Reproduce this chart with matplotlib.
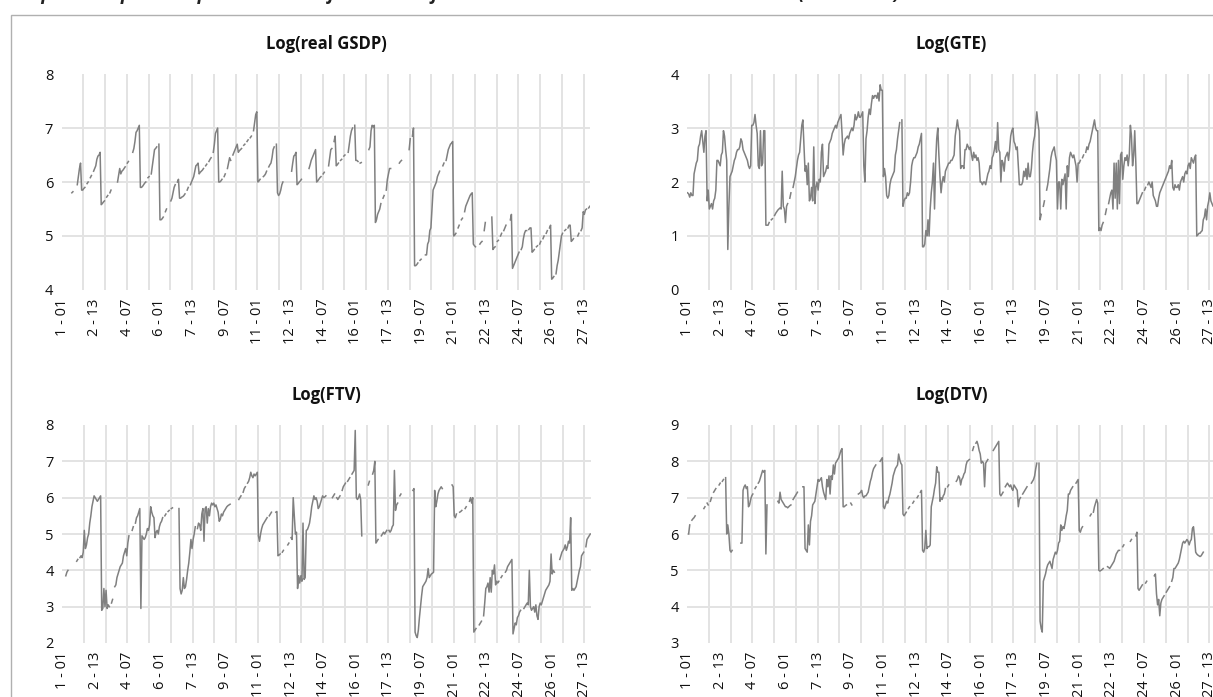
import numpy as np
import matplotlib
matplotlib.use("Agg")
import matplotlib.pyplot as plt
from matplotlib.patches import Rectangle

plt.rcParams["font.family"] = ["Open Sans", "DejaVu Sans"]

nan = np.nan
n_states = 27
n_periods = 18

# one list of 18 periods per state, nan = missing value (gap in the line)
gsdp = [
    [nan, nan, nan, nan, nan, nan, nan, nan, nan, 5.8, 5.82, nan, nan, nan, 5.95, 6.1, 6.25, 6.35],
    [5.85, 5.85, 5.88, 5.9, nan, 5.97, 6.0, nan, 6.08, 6.12, nan, 6.2, 6.25, 6.3, 6.42, 6.48, 6.5, 6.55],
    [5.58, 5.6, 5.63, 5.65, nan, 5.72, 5.75, nan, 5.8, 5.85, nan, nan, nan, nan, nan, 6.0, 6.12, 6.25],
    [6.15, 6.2, 6.22, 6.25, 6.28, nan, 6.35, 6.38, nan, 6.45, nan, 6.55, 6.62, 6.75, 6.92, 6.95, 7.0, 7.05],
    [5.9, 5.9, 5.92, 5.95, 5.98, 6.0, nan, 6.08, 6.1, nan, 6.15, 6.3, 6.45, 6.6, 6.62, 6.65, nan, 6.7],
    [5.3, 5.3, 5.32, 5.35, nan, 5.45, 5.5, nan, 5.55, nan, 5.65, 5.7, 5.8, 5.9, 5.95, nan, 6.0, 6.05],
    [5.7, 5.7, 5.72, 5.73, 5.75, 5.78, nan, 5.85, 5.9, nan, 5.95, 6.0, 6.05, 6.1, 6.2, 6.3, 6.32, 6.35],
    [6.15, 6.18, 6.2, 6.22, 6.25, nan, 6.3, 6.33, nan, 6.38, 6.42, 6.45, nan, 6.55, 6.7, 6.9, 6.95, 7.0],
    [6.0, 6.0, 6.02, 6.05, nan, 6.1, 6.15, nan, 6.25, 6.35, 6.45, 6.4, nan, 6.5, 6.55, 6.6, 6.65, 6.7],
    [6.55, 6.58, 6.6, 6.62, nan, 6.68, 6.7, nan, 6.75, 6.78, nan, 6.82, 6.85, nan, 6.95, 7.1, 7.25, 7.3],
    [6.0, 6.02, 6.05, nan, nan, 6.1, 6.12, 6.15, 6.2, nan, 6.28, 6.32, 6.35, 6.45, 6.6, 6.65, nan, 6.7],
    [5.8, 5.75, 5.78, 5.85, 5.95, 6.0, nan, nan, nan, nan, nan, nan, nan, 6.2, 6.35, 6.48, 6.5, 6.55],
    [5.95, 5.97, 6.0, 6.02, 6.05, nan, nan, nan, nan, nan, nan, 6.25, 6.32, 6.4, 6.45, 6.5, 6.55, 6.6],
    [6.0, 6.02, 6.05, 6.08, 6.1, nan, 6.15, 6.18, nan, 6.22, nan, 6.3, 6.45, 6.6, 6.62, nan, 6.75, 6.85],
    [6.3, 6.32, 6.35, nan, 6.4, 6.42, nan, 6.48, 6.5, nan, nan, 6.55, 6.7, 6.85, 6.95, 7.0, nan, 7.05],
    [6.4, 6.4, 6.38, nan, 6.35, 6.36, nan, nan, nan, nan, nan, nan, 6.6, 6.65, 6.95, 7.05, 7.02, 7.05],
    [5.25, 5.3, 5.4, 5.45, 5.5, 5.6, nan, 5.7, 5.75, nan, 5.85, 6.05, 6.15, 6.25, 6.25, nan, nan, nan],
    [nan, nan, nan, nan, 6.35, 6.38, 6.4, nan, nan, nan, nan, nan, nan, 6.6, 6.8, nan, 6.85, 7.0],
    [4.45, 4.45, 4.47, 4.5, nan, 4.55, 4.57, nan, 4.6, nan, 4.65, 4.65, 4.85, 4.9, 5.1, 5.15, 5.5, 5.85],
    [5.9, 5.95, 6.0, 6.1, 6.15, 6.2, nan, nan, 6.3, 6.35, nan, 6.4, 6.5, 6.6, 6.65, 6.7, 6.72, 6.75],
    [5.0, 5.02, 5.05, nan, 5.15, 5.2, nan, 5.3, 5.33, nan, 5.45, 5.55, 5.6, 5.65, 5.7, 5.75, 5.78, 5.8],
    [4.85, 4.82, 4.8, nan, nan, nan, 4.85, 4.88, 4.9, nan, 5.1, 5.25, nan, nan, nan, nan, nan, 5.35],
    [4.75, 4.78, 4.8, nan, 4.9, 4.92, nan, 5.0, 5.05, nan, 5.1, 5.15, 5.2, nan, nan, nan, 5.3, 5.4],
    [4.4, 4.45, 4.5, 4.55, 4.6, 4.65, 4.7, nan, 4.75, 4.8, 4.95, 5.05, 5.1, 5.1, nan, 5.12, 5.15, 5.15],
    [4.7, 4.72, 4.75, nan, 4.8, 4.82, nan, 4.85, 4.9, nan, 4.95, 5.0, nan, 5.05, 5.1, nan, 5.15, 5.2],
    [4.2, 4.22, 4.25, nan, 4.3, 4.45, 4.55, 4.7, 4.85, 5.0, 5.05, nan, 5.1, 5.12, nan, 5.15, 5.2, 5.2],
    [4.9, 4.92, 4.95, nan, nan, nan, 5.0, 5.05, nan, 5.1, 5.15, 5.45, 5.4, 5.48, 5.5, nan, 5.52, 5.55],
]

gte = [
    [1.8, 1.78, 1.72, 1.8, 1.75, 1.75, 2.15, 2.25, 2.35, 2.4, 2.65, 2.7, 2.85, 2.95, 2.75, 2.55, 2.85, 2.95],
    [1.65, 1.85, 1.5, 1.55, 1.6, 1.5, 1.65, 1.7, 1.85, 2.4, 2.4, 2.35, 2.3, 2.5, 2.55, 2.95, 2.85, 2.6],
    [2.4, 0.75, 1.55, 2.1, 2.15, 2.2, 2.3, 2.4, 2.45, 2.55, 2.6, 2.6, 2.65, 2.8, 2.75, 2.6, 2.55, 2.5],
    [2.45, 2.4, 2.3, 2.25, 2.3, 3.05, 3.05, 3.1, 3.25, 3.05, 2.9, 2.3, 2.25, 2.95, 2.3, 2.35, 2.95, 2.95],
    [1.2, 1.2, 1.2, 1.25, nan, 1.3, 1.32, nan, 1.38, 1.42, 1.45, 1.48, 1.5, 1.52, 1.5, 2.2, 1.55, 1.5],
    [1.25, 1.55, 1.6, nan, 1.7, 1.8, nan, 1.9, 2.0, 2.1, 2.25, 2.4, 2.5, 2.55, 2.8, 3.05, 3.15, 2.65],
    [2.2, 2.3, 1.95, 2.35, 1.65, 1.7, 1.9, 1.65, 2.65, 1.6, 1.9, 2.0, 1.85, 2.05, 2.0, 2.55, 2.7, 2.1],
    [2.15, 2.2, 2.3, 2.25, 2.7, 2.75, 2.8, 2.9, 2.95, 3.0, 3.05, 3.0, 3.1, 3.15, 3.2, 3.25, 2.9, 2.5],
    [2.7, 2.8, 2.82, 2.85, 2.8, 2.9, 2.95, 3.0, 2.95, 3.05, 3.25, 3.15, 3.2, 3.3, 3.2, 3.2, 3.25, 3.3],
    [2.3, 2.0, 2.8, 2.95, 3.2, 3.35, 3.25, 3.45, 3.6, 3.55, 3.6, 3.6, 3.55, 3.65, 3.5, 3.8, 3.7, 3.7],
    [2.1, 2.25, 2.1, 1.75, 1.7, 1.75, 1.95, 2.05, 2.1, 2.15, 2.2, 2.5, 2.6, 2.8, 2.95, 3.1, nan, 3.15],
    [1.55, 1.65, 1.7, 1.7, 1.8, 1.75, 1.8, 2.0, 2.3, 2.4, 2.45, 2.45, 2.5, 2.55, 2.65, 2.7, 2.8, 2.9],
    [0.8, 0.8, 0.85, 1.1, 1.0, 1.3, 1.0, 1.5, 1.8, 2.0, 2.35, 1.5, 2.35, 2.8, 3.0, 2.5, 2.1, 1.8],
    [2.0, 2.1, 2.0, 2.2, 2.25, 2.3, 2.35, 2.35, 2.4, 2.4, 2.45, 2.5, 2.85, 3.0, 3.15, 3.0, 2.95, 2.25],
    [2.3, 2.3, 2.25, 2.6, 2.6, 2.7, 2.65, 2.6, 2.65, 2.5, 2.4, 2.55, 2.45, 2.5, 2.4, 2.45, 2.35, 2.0],
    [2.0, 1.95, 2.0, 2.0, 1.95, 2.05, 2.15, 2.2, 2.3, 2.25, 2.45, 2.5, 2.6, 2.75, 2.55, 3.1, 2.6, 2.55],
    [2.0, 2.4, 2.35, 2.2, 2.45, 2.5, 2.55, 2.4, 2.6, 2.85, 2.95, 3.0, 2.75, 2.7, 2.6, 2.65, 2.3, 1.95],
    [1.95, 1.95, 2.0, 2.2, 2.1, 2.25, 2.05, 2.35, 2.1, 2.1, 2.25, 2.55, 2.75, 2.85, 3.1, 3.3, 3.1, 2.95],
    [1.3, 1.4, nan, 1.55, 1.65, nan, 1.85, 1.95, 2.1, 2.25, 2.45, 2.55, 2.6, 2.65, 2.5, 2.4, 1.5, 2.0],
    [2.0, 1.5, 2.05, 1.95, 2.05, 2.15, 1.5, 2.3, 2.1, 2.45, 2.55, 2.5, 2.45, 2.5, 2.4, 2.3, 2.0, 2.35],
    [2.35, 2.4, nan, 2.45, 2.5, nan, 2.55, 2.65, 2.6, 2.7, 2.75, 2.85, 2.95, 3.05, 3.15, 3.0, 2.95, 2.95],
    [1.1, 1.15, 1.1, 1.2, 1.25, nan, 1.4, 1.5, nan, 1.6, 1.7, 1.8, 1.85, 1.5, 2.35, 1.7, 2.35, 1.5],
    [2.4, 1.6, 2.5, 2.55, 2.05, 2.3, 2.45, 2.4, 2.5, 2.3, 2.5, 3.05, 2.85, 2.3, 2.5, 2.95, 2.35, 1.6],
    [1.6, 1.65, 1.7, 1.75, 1.8, nan, 1.85, 1.9, nan, 1.95, 2.0, 1.95, 1.9, 2.0, 1.75, 1.7, 1.65, 1.55],
    [1.55, 1.7, 1.8, 1.85, 1.9, 1.95, 2.0, 2.05, 2.1, 2.15, 2.2, 2.3, 2.25, 2.4, 1.9, 1.85, 1.95, 1.9],
    [1.9, 1.95, 1.85, 2.0, 2.05, 2.1, 2.0, 2.15, 2.2, 2.15, 2.3, 2.35, 2.25, 2.45, 2.4, 2.35, 2.45, 2.5],
    [1.0, 1.02, 1.05, 1.05, 1.08, 1.1, 1.3, 1.35, 1.5, 1.3, 1.55, 1.65, 1.8, 1.65, 1.6, 1.55, 1.55, 1.5],
]

ftv = [
    [nan, nan, nan, 3.85, 3.95, 4.0, nan, nan, nan, nan, nan, nan, nan, 4.25, 4.3, nan, 4.35, 4.4],
    [4.35, 4.5, 5.1, 4.6, 4.7, 4.9, 5.0, 5.3, 5.5, 5.75, 5.9, 6.05, 6.0, 5.95, 5.9, 5.95, 6.0, 6.05],
    [2.9, 2.95, 3.5, 3.0, 3.45, 2.95, 3.05, 3.0, nan, 3.1, 3.2, nan, 3.55, 3.6, 3.8, 3.9, 4.0, 4.1],
    [4.15, 4.2, 4.4, 4.5, 4.6, 4.4, 4.75, 4.95, nan, nan, 5.1, 5.2, nan, 5.3, 5.45, 5.5, 5.6, 5.7],
    [2.95, 4.95, 4.9, 4.85, 4.9, 5.0, 5.15, 5.1, 5.25, 5.75, 5.6, 5.5, 5.45, 4.9, 5.05, 5.1, 5.0, 5.2],
    [5.3, 5.35, 5.45, nan, 5.5, 5.55, nan, 5.62, 5.65, nan, 5.7, 5.72, nan, nan, nan, nan, nan, 5.7],
    [3.5, 3.35, 3.45, 3.8, 3.5, 3.55, 3.75, 4.0, 4.2, 4.5, 4.85, 4.6, 4.85, 5.0, 5.2, nan, 5.15, 5.3],
    [5.25, 5.1, 5.55, 5.7, 4.8, 5.7, 5.75, 5.3, 5.7, 5.5, 5.75, 5.85, 5.8, 5.85, 5.75, 5.8, 5.7, 5.6],
    [5.35, 5.4, 5.55, 5.5, 5.6, 5.65, 5.7, 5.75, 5.78, 5.8, 5.82, nan, nan, nan, nan, nan, nan, nan],
    [5.95, 6.0, 6.05, nan, 6.15, 6.25, 6.3, nan, 6.4, 6.45, 6.55, 6.7, 6.6, 6.55, 6.65, 6.6, 6.65, 6.7],
    [4.95, 4.8, 5.0, 5.15, 5.25, 5.3, 5.35, 5.4, 5.45, nan, 5.5, 5.55, 5.6, nan, nan, nan, 5.6, 5.62],
    [4.4, 4.42, 4.45, nan, 4.5, 4.55, nan, nan, nan, 4.7, 4.75, nan, 4.9, 4.85, 6.0, 5.5, 5.0, 5.05],
    [3.5, 3.85, 3.65, 3.85, 3.7, 5.3, 3.75, 3.8, 5.1, 5.12, 5.2, 5.3, 5.5, 5.75, 5.9, 6.05, 5.95, 6.0],
    [5.9, 5.7, 5.75, 5.85, 5.95, 6.05, 6.0, 6.02, 6.05, nan, nan, nan, nan, nan, 6.0, 6.05, 6.1, nan],
    [6.0, 5.95, 6.0, 6.05, nan, 6.2, 6.3, 6.35, 6.4, nan, 6.45, 6.5, 6.55, nan, 6.65, 6.7, 6.75, 7.85],
    [6.0, 5.95, 6.0, 6.1, 5.95, 4.95, nan, nan, nan, nan, nan, 6.35, 6.45, nan, nan, 6.65, 6.75, 7.0],
    [4.75, 4.8, 4.85, nan, nan, 4.95, 5.0, 5.05, 5.0, 5.05, 5.1, nan, 5.1, 5.05, 5.1, 5.2, 5.25, 6.75],
    [5.65, 5.8, 5.85, nan, 6.05, 6.1, nan, nan, nan, nan, nan, nan, nan, nan, nan, nan, 6.2, 6.25],
    [2.3, 2.2, 2.15, 2.35, 2.7, 3.0, 3.3, 3.55, 3.6, 3.65, 3.7, 3.8, 4.05, 3.8, 3.85, 3.9, 3.92, 3.95],
    [6.2, 5.75, 5.9, 6.1, 6.2, 6.25, 6.3, 6.25, nan, nan, nan, nan, nan, nan, nan, nan, 6.35, 6.3],
    [5.5, 5.45, 5.55, nan, nan, 5.6, 5.62, 5.65, nan, nan, 5.7, 5.75, nan, nan, 5.9, 6.0, 5.85, 6.0],
    [2.3, 2.35, 2.4, nan, nan, 2.5, 2.55, 2.6, nan, 2.75, 3.1, 3.5, 3.55, 3.65, 3.4, 3.8, 3.4, 4.0],
    [3.9, 4.15, 3.6, 3.7, 3.65, 3.7, nan, 3.8, 3.85, nan, nan, 3.95, 4.0, 4.1, 4.15, 4.2, 4.25, 4.3],
    [2.25, 2.4, 2.55, 2.5, 2.7, 2.75, 2.85, 2.9, nan, nan, 2.95, 3.0, 3.05, 3.1, 3.05, 4.0, 3.0, 2.9],
    [2.95, 3.0, 2.85, 3.05, 2.75, 2.65, 3.0, 3.1, 3.05, 3.15, 3.25, 3.35, 3.45, 3.5, 3.55, 3.6, 3.7, 4.45],
    [3.9, 4.0, 3.95, nan, nan, nan, nan, 4.3, 4.4, 4.5, 4.55, 4.6, 4.7, 4.55, 4.65, 4.8, 4.75, 5.45],
    [3.45, 3.5, 3.45, 3.5, 3.55, 3.7, 3.85, 4.0, 4.1, 4.4, 4.45, 4.5, nan, 4.65, 4.85, 4.9, 4.95, 5.0],
]

dtv = [
    [nan, 6.0, 6.25, nan, 6.38, 6.42, 6.45, 6.5, nan, nan, nan, nan, nan, nan, nan, 6.7, 6.75, nan],
    [6.85, 6.8, nan, 6.9, 7.0, nan, 7.15, 7.2, 7.25, nan, nan, 7.35, 7.4, nan, 7.45, 7.5, nan, 7.55],
    [6.0, 6.25, 6.0, 5.55, 5.5, 5.55, nan, nan, nan, nan, nan, nan, nan, 5.75, 5.75, 7.2, 7.3, 7.35],
    [7.25, 7.3, 6.75, 6.8, 6.95, 7.05, 7.1, nan, 7.25, 7.3, nan, 7.4, 7.45, 7.55, 7.65, 7.75, 7.7, 7.75],
    [5.45, 6.8, nan, nan, nan, nan, nan, nan, nan, nan, nan, 6.9, 6.85, 7.15, 6.95, 6.9, 6.85, 6.8],
    [6.75, 6.75, 6.72, 6.75, 6.78, 6.8, nan, 6.95, 7.0, 7.05, 7.1, 7.15, nan, nan, nan, nan, 7.3, 7.3],
    [5.6, 5.55, 5.5, 6.25, 5.7, 6.35, 6.5, 6.8, 6.85, 6.9, 7.1, 7.3, 7.5, 7.45, 7.5, 7.55, 7.3, 7.15],
    [7.05, 6.95, 7.5, 7.3, 7.6, 7.1, 7.6, 7.5, 7.9, 7.65, 7.95, 8.0, 8.05, 8.1, 8.2, 8.3, 8.35, 6.75],
    [6.75, 6.78, 6.8, nan, nan, nan, 6.85, 6.8, nan, nan, nan, nan, nan, 7.1, 7.12, 7.15, 7.2, 7.05],
    [7.0, 7.05, 7.05, 7.1, 7.15, 7.3, 7.45, 7.55, 7.7, 7.8, 7.85, 7.9, nan, nan, nan, 8.0, 8.05, 8.1],
    [6.75, 6.7, 6.8, 6.9, 6.85, 7.0, 7.1, 7.25, 7.4, 7.6, 7.7, 7.8, 7.85, 7.9, 8.2, 8.05, 7.95, 7.9],
    [6.55, 6.5, 6.55, 6.6, nan, 6.7, 6.75, nan, nan, 6.85, 6.9, nan, nan, 7.0, 7.05, nan, 7.15, 7.2],
    [5.55, 5.5, 5.6, 6.1, 5.6, 5.65, 5.65, 5.7, 6.75, 6.9, 7.05, 7.25, 7.4, 7.85, 7.7, 7.7, 6.9, 7.0],
    [6.95, 7.05, 7.1, 7.25, nan, 7.3, 7.35, nan, nan, nan, nan, nan, nan, 7.45, 7.5, 7.6, 7.55, 7.35],
    [7.5, 7.55, 7.65, 7.7, 7.9, 8.0, 8.02, 8.05, nan, nan, 8.3, 8.4, nan, 8.5, 8.55, 8.45, 8.3, 8.2],
    [7.95, 8.0, 7.95, 7.3, 7.95, 8.0, 8.05, nan, nan, nan, nan, 8.3, 8.35, 8.4, 8.45, 8.5, 8.55, 7.1],
    [7.05, 7.1, 7.15, nan, 7.3, 7.35, 7.4, 7.35, 7.3, 7.35, 7.25, 7.2, 7.35, 7.3, 7.25, 7.2, 6.75, 6.95],
    [7.0, nan, 7.1, 7.15, 7.2, 7.25, 7.3, nan, nan, nan, 7.4, 7.45, 7.5, 7.6, 7.8, 7.95, nan, 7.95],
    [3.6, 3.4, 3.3, 4.7, 4.8, 4.9, 5.05, 5.15, 5.2, 5.25, 5.15, 5.05, 5.3, 5.4, 5.5, 5.45, 5.55, 5.75],
    [5.8, 6.25, 6.1, 6.2, 6.15, 6.3, 6.5, 6.65, 7.1, 7.1, 7.2, 7.25, 7.3, nan, nan, 7.4, 7.45, 7.5],
    [6.1, 6.05, 6.15, 6.2, nan, nan, nan, nan, nan, nan, 6.5, 6.55, nan, 6.6, 6.75, 6.85, 6.95, 6.85],
    [5.0, 4.98, 5.0, 5.02, 5.05, nan, nan, nan, 5.1, 5.08, 5.05, 5.1, 5.15, 5.2, 5.25, 5.35, 5.45, 5.5],
    [5.55, 5.55, nan, nan, 5.65, 5.7, nan, nan, nan, nan, nan, 5.8, 5.85, nan, nan, nan, 5.95, 6.05],
    [4.5, 4.45, 4.5, 4.55, 4.6, nan, nan, 4.65, 4.7, nan, nan, nan, nan, nan, nan, 4.85, 4.9, 4.35],
    [4.05, 4.2, 3.75, 4.1, 4.2, 4.25, 4.3, nan, 4.4, 4.45, 4.5, 4.55, nan, 4.7, 4.8, 5.05, 5.05, 5.1],
    [5.15, 5.2, 5.3, 5.45, 5.6, 5.75, 5.8, 5.75, 5.8, 5.85, 5.8, 5.7, 5.8, 5.85, 6.15, 6.2, 5.9, 5.5],
    [5.45, 5.42, 5.4, 5.38, 5.4, 5.45, 5.5, nan, nan, nan, nan, nan, nan, nan, nan, nan, nan, nan],
]

categories = [f"{s} - {p:02d}" for s in range(1, n_states + 1) for p in range(1, n_periods + 1)]
label_step = 30
grid_step = 20

panels = [
    ("Log(real GSDP)", gsdp, (4, 8)),
    ("Log(GTE)", gte, (0, 4)),
    ("Log(FTV)", ftv, (2, 8)),
    ("Log(DTV)", dtv, (3, 9)),
]

W, H = 1213, 697
fig = plt.figure(figsize=(W / 100, H / 100), dpi=100)

# outer chart frame (cut off at right and bottom)
fig.patches.append(Rectangle((11 / W, -0.05), 1.2, 1 - 14.5 / H + 0.05,
                             transform=fig.transFigure, fill=False,
                             edgecolor="#b0b0b0", lw=1.0))
# caption of the page, only its lower edge is inside the crop
fig.text(10 / W, 1 + 0.5 / H,
         "Graph 1: Graphical representation of the data of the selected variables across the states (2000-2017)",
         fontsize=13.5, fontstyle="italic", fontweight="bold", va="baseline", color="#222222")

# pixel boxes: left, top, right, bottom
boxes = [(61.5, 74, 590.3, 290), (687, 74, 1215.8, 290),
         (62, 425, 590.8, 643), (687, 425, 1215.8, 643)]

for (title, data, (lo, hi)), (l, t, r, b) in zip(panels, boxes):
    ax = fig.add_axes([l / W, 1 - b / H, (r - l) / W, (b - t) / H])
    vals = np.array(data, dtype=float)
    assert vals.shape == (n_states, n_periods), title
    y = vals.ravel()
    x = np.arange(len(y))
    for k in range(1, len(y) // grid_step + 1):
        if k * grid_step < len(y):
            ax.axvline(k * grid_step - 0.5, color="#e3e3e3", lw=1.4, zorder=0)
    for v in range(lo + 1, hi):
        ax.axhline(v, color="#e3e3e3", lw=1.4, zorder=0)
    ax.plot(x, y, color="#808080", lw=1.1, zorder=2)
    ax.set_xlim(-0.5, len(y) - 0.5)
    ax.set_ylim(lo, hi)
    ax.set_yticks(range(lo, hi + 1))
    ticks = x[::label_step]
    ax.set_xticks(ticks)
    ax.set_xticklabels([categories[i] for i in ticks], rotation=90)
    ax.tick_params(length=0, labelsize=10.5, colors="#111111", pad=6)
    for s in ax.spines.values():
        s.set_visible(False)
    ax.set_title(title, fontsize=12, fontweight="bold", pad=18, color="#111111")

fig.savefig("out.png", dpi=100)
